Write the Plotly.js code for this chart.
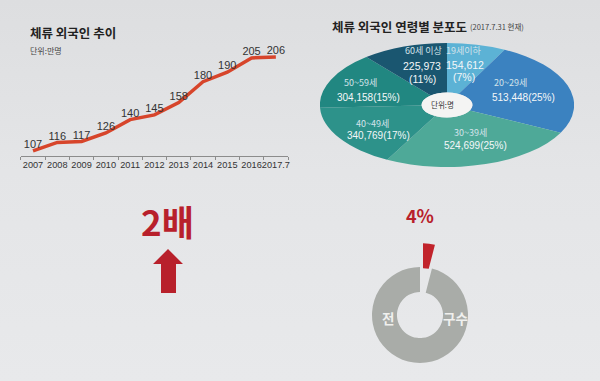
<!DOCTYPE html>
<html>
<head>
<meta charset="utf-8">
<script src="https://cdn.plot.ly/plotly-3.0.1.min.js"></script>
<style>
  html, body { margin:0; padding:0; }
  body { width:600px; height:381px; overflow:hidden; position:relative;
         background: linear-gradient(180deg, #dddee0 0%, #e4e5e7 45%, #e8e9eb 100%); }
  #pie { position:absolute; left:385px; top:43px; width:124px; height:124px;
         transform: scaleX(2.05); transform-origin: 50% 50%; }
  #donut { position:absolute; left:348px; top:243px; width:144px; height:144px; }
  #main { position:absolute; left:0; top:0; width:600px; height:381px; }
</style>
</head>
<body>
<div id="pie"></div>
<div id="donut"></div>
<div id="main"></div>
<script>
// ---------- data ----------
const years = ['2007','2008','2009','2010','2011','2012','2013','2014','2015','2016','2017.7'];
const foreigners = [107,116,117,126,140,145,158,180,190,205,206];   // 만명

const ageGroups = ['19세이하','20~29세','30~39세','40~49세','50~59세','60세 이상'];
const ageCounts = [154612,513448,524699,340769,304158,225973];       // 명
const agePercents = [7,25,25,17,15,11];

const shareLabels = ['외국인','기타'];
const shareValues = [4,96];
const shareText = '4%';
const growthText = '2배';

// ---------- helpers ----------
const W = 600, H = 381;
const px = x => x / W;
const py = y => 1 - y / H;
const KR = "'Noto Sans CJK KR', 'Noto Sans', sans-serif";
const NUM = "'Liberation Sans', Arial, sans-serif";
const RED = '#b8202b';
const fmt = v => v.toLocaleString('en-US');

// ---------- elliptical pie (age distribution) ----------
Plotly.newPlot('pie', [{
  type: 'pie',
  labels: ageGroups,
  values: ageCounts,
  sort: false,
  direction: 'clockwise',
  rotation: 0,
  hole: 0.2,
  textinfo: 'none',
  hoverinfo: 'none',
  marker: { colors: ['#5cb2d5','#3b82c0','#4ea998','#2d928a','#218781','#1a5670'],
            line: { width: 0 } }
}], {
  width: 124, height: 124, margin: {l:0, r:0, t:0, b:0},
  paper_bgcolor: 'rgba(0,0,0,0)', showlegend: false,
  shapes: [{ type:'circle', xref:'paper', yref:'paper', x0:0.4, x1:0.6, y0:0.4, y1:0.6,
             fillcolor:'#f4f4f3', line:{width:0}, layer:'above' }]
}, { staticPlot: true, displayModeBar: false });

// ---------- donut (share) ----------
Plotly.newPlot('donut', [{
  type: 'pie',
  labels: shareLabels,
  values: shareValues,
  sort: false,
  direction: 'clockwise',
  rotation: 0,
  hole: 0.48,
  pull: [0.5, 0],
  textinfo: 'none',
  hoverinfo: 'none',
  marker: { colors: ['#c1232b','#a9aca8'], line: { width: 0 } }
}], {
  width: 144, height: 144, margin: {l:0, r:0, t:0, b:0},
  paper_bgcolor: 'rgba(0,0,0,0)', showlegend: false
}, { staticPlot: true, displayModeBar: false });

// ---------- main: line chart + texts ----------
const lineTrace = {
  type: 'scatter',
  mode: 'lines+text',
  x: years,
  y: foreigners,
  text: foreigners.map(String),
  textposition: 'top center',
  textfont: { family: NUM, size: 11, color: '#333333' },
  line: { color: '#d7452b', width: 3.5 },
  hoverinfo: 'none',
  cliponaxis: false
};

const ann = [];
function addText(text, x, y, size, color, opts) {
  ann.push(Object.assign({
    text: text, x: px(x), y: py(y), xref: 'paper', yref: 'paper',
    showarrow: false, xanchor: 'center', yanchor: 'middle',
    font: { family: KR, size: size, color: color }
  }, opts || {}));
}

// titles
addText('체류 외국인 추이', 28, 33, 12.5, '#222', { xanchor: 'left', font: { family: KR, size: 12.5, color: '#222', weight: 700 } });
addText('단위:만명', 28, 51, 8, '#444', { xanchor: 'left' });
addText('체류 외국인 연령별 분포도', 330, 27, 12.5, '#222', { xanchor: 'left', font: { family: KR, size: 12.5, color: '#222', weight: 700 } });
addText('(2017.7.31 현재)', 468, 26, 7.5, '#444', { xanchor: 'left' });

// pie labels
const labelPos = [
  { lab: [464, 50], val: [[465, 65], [464, 77]] },
  { lab: [510, 82], val: [[523, 97]] },
  { lab: [470, 132], val: [[475, 145]] },
  { lab: [372, 123], val: [[378, 135]] },
  { lab: [360, 82], val: [[368, 97]] },
  { lab: [423, 50], val: [[422, 66], [422, 79]] }
];
ageGroups.forEach((g, i) => {
  const p = labelPos[i];
  addText(g, p.lab[0], p.lab[1], 9, '#d3e3ea');
  if (p.val.length === 2) {
    const f = { family: NUM, size: 10.5, color: '#f4f7f8' };
    addText(fmt(ageCounts[i]), p.val[0][0], p.val[0][1], 10.5, '#f4f7f8', { font: f });
    addText('(' + agePercents[i] + '%)', p.val[1][0], p.val[1][1], 10.5, '#f4f7f8', { font: f });
  } else {
    const f = { family: NUM, size: 10, color: '#f4f7f8' };
    addText(fmt(ageCounts[i]) + '(' + agePercents[i] + '%)', p.val[0][0], p.val[0][1], 10, '#f4f7f8', { font: f });
  }
});
addText('단위:명', 442, 104, 7.5, '#333');

// big texts
addText(growthText, 167, 220, 35, RED, { font: { family: KR, size: 35, color: RED, weight: 700 } });
addText(shareText, 420, 215, 18, RED, { font: { family: KR, size: 18, color: RED, weight: 700 } });
addText('전', 388, 318, 13.5, '#f0f0ee', { font: { family: KR, size: 13.5, color: '#f0f0ee', weight: 700 } });
addText('구수', 455, 318, 13.5, '#f0f0ee', { font: { family: KR, size: 13.5, color: '#f0f0ee', weight: 700 } });

// arrow shape (decoration)
const arrowPts = [[168,249],[183,264],[176,264],[176,293],[161,293],[161,264],[153,264]];
const arrowPath = 'M ' + arrowPts.map(p => px(p[0]) + ',' + py(p[1])).join(' L ') + ' Z';

Plotly.newPlot('main', [lineTrace], {
  width: W, height: H,
  margin: { l:0, r:0, t:0, b:0 },
  paper_bgcolor: 'rgba(0,0,0,0)',
  plot_bgcolor: 'rgba(0,0,0,0)',
  showlegend: false,
  xaxis: {
    type: 'category',
    domain: [20.85 / W, 288 / W],
    range: [-0.5, 10.5],
    showline: true, linecolor: '#8c8c8c', linewidth: 1,
    ticks: 'outside', tickson: 'boundaries', ticklen: 3, tickcolor: '#8c8c8c',
    tickangle: 0,
    showgrid: false, zeroline: false,
    tickfont: { family: NUM, size: 9.2, color: '#333' },
    fixedrange: true
  },
  yaxis: {
    visible: false,
    domain: [py(156), py(40)],
    range: [101.7, 223.9],
    fixedrange: true
  },
  annotations: ann,
  shapes: [{ type: 'path', xref: 'paper', yref: 'paper', path: arrowPath,
             fillcolor: RED, line: { width: 0 } }]
}, { staticPlot: true, displayModeBar: false });
</script>
</body>
</html>
